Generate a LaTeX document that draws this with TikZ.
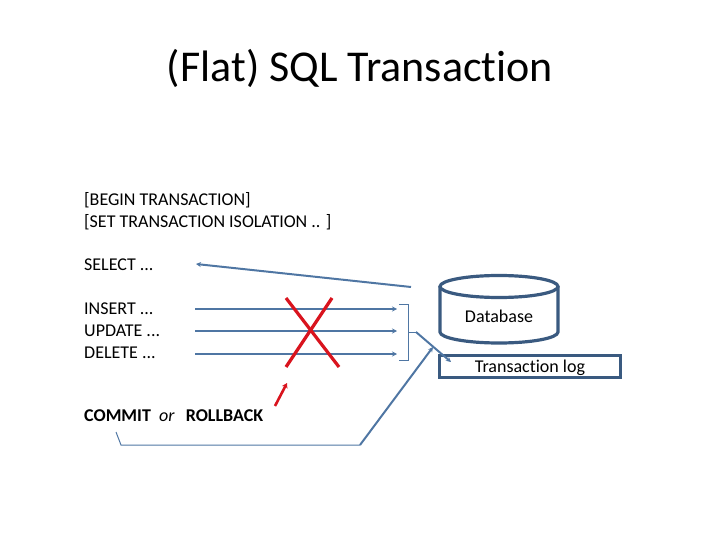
\documentclass[tikz,border=0pt]{standalone}
\usepackage{fontspec}
\setmainfont{Carlito}[Ligatures=NoCommon]
\usetikzlibrary{arrows.meta}
\definecolor{blueline}{HTML}{4F76A3}
\definecolor{darkblue}{HTML}{3A5A80}
\definecolor{redx}{HTML}{D9141E}
\tikzset{
  txt/.style={anchor=west,inner sep=0pt,font=\fontsize{18}{21}\selectfont,text=black},
  flow/.style={draw=blueline,line width=2pt,-{Stealth[length=5pt,width=5pt]}},
  thinflow/.style={draw=blueline,line width=1pt},
  shapeline/.style={draw=darkblue,line width=3.2pt},
  cross/.style={draw=redx,line width=3.2pt}
}
\begin{document}
\begin{tikzpicture}[x=1pt,y=-1pt]
\useasboundingbox (0,0) rectangle (720,540);
\node[inner sep=0pt,font=\fontsize{44}{50}\selectfont] (title) at (360,68) {(Flat) SQL Transaction};
\node[txt] (t1) at (84,200) {[BEGIN TRANSACTION]};
\node[txt] (t2) at (84,222) {[SET TRANSACTION ISOLATION .. ]};
\node[txt] (t3) at (84,265) {SELECT ...};
\node[txt] (t4) at (84,309) {INSERT ...};
\node[txt] (t5) at (84,331) {UPDATE ...};
\node[txt] (t6) at (84,353) {DELETE ...};
\node[txt] (t7) at (84,416) {\textbf{COMMIT} \ \textit{or} \,\ \textbf{ROLLBACK}};
% Database cylinder
\draw[shapeline,fill=white] (440,286.5) -- (440,332) arc[start angle=180,end angle=360,x radius=59,y radius=-11] -- (558,286.5);
\draw[shapeline] (499,286.5) ellipse[x radius=59,y radius=11];
\node[inner sep=0pt,font=\fontsize{18}{21}\selectfont] (db) at (499,316) {Database};
% Transaction log
\node[shapeline,minimum width=181pt,minimum height=22pt,inner sep=0pt,anchor=center] (log) at (530,366.5) {};
\node[inner sep=0pt,font=\fontsize{18}{21}\selectfont] (logt) at (530,368) {Transaction log};
% coordinates
\coordinate (s0) at (411,287); \coordinate (s1) at (196,264);
\coordinate (i0) at (195,309); \coordinate (i1) at (397,309);
\coordinate (u0) at (195,331); \coordinate (u1) at (397,331);
\coordinate (d0) at (195,354); \coordinate (d1) at (397,354);
\draw[flow] (s0) -- (s1);
\draw[flow] (i0) -- (i1);
\draw[flow] (u0) -- (u1);
\draw[flow] (d0) -- (d1);
\coordinate (b1) at (399,304); \coordinate (b2) at (408.5,304); \coordinate (b3) at (408.5,360); \coordinate (b4) at (399,360);
\coordinate (b5) at (408.5,332); \coordinate (b6) at (416,332); \coordinate (b7) at (451,362);
\draw[thinflow] (b1) -- (b2) -- (b3) -- (b4);
\draw[thinflow] (b5) -- (b6);
\draw[flow] (b6) -- (b7);
\coordinate (c1) at (116,432); \coordinate (c2) at (121,445); \coordinate (c3) at (360,445); \coordinate (c4) at (433,347);
\draw[thinflow] (c1) -- (c2) -- (c3);
\draw[flow] (c3) -- (c4);
% red cross
\coordinate (x1) at (286,298); \coordinate (x2) at (339,367);
\coordinate (x3) at (332,298); \coordinate (x4) at (286,367);
\coordinate (x5) at (275,406); \coordinate (x6) at (287,383);
\draw[cross] (x1) -- (x2);
\draw[cross] (x3) -- (x4);
\draw[cross,line width=2.6pt,-{Stealth[length=5pt,width=6pt]}] (x5) -- (x6);
\end{tikzpicture}
\end{document}
